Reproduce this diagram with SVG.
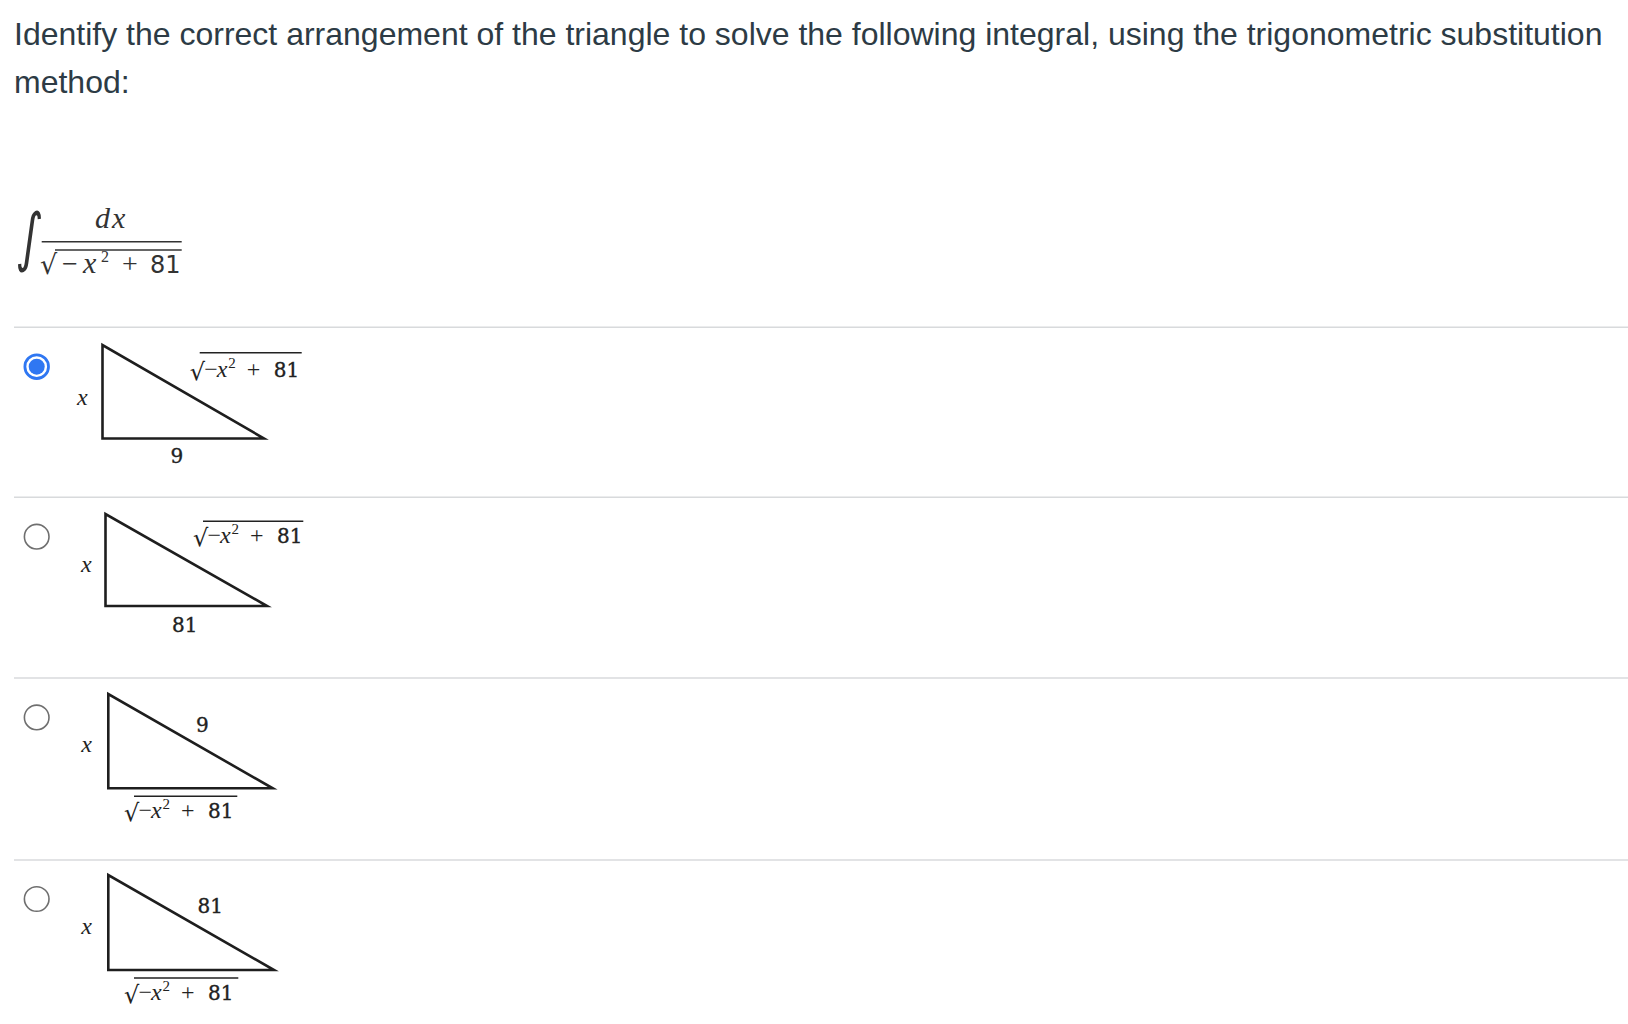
<svg xmlns="http://www.w3.org/2000/svg" width="1628" height="1024" viewBox="0 0 1628 1024">
<style>
.title{font-family:"Liberation Sans",Arial,sans-serif;font-size:32px;fill:#2d3b45}
.sep{stroke:#d8dadc;stroke-width:1.5}
.radio{fill:#fff;stroke:#6f6f6f;stroke-width:1.6}
.radioOn{fill:#fff;stroke:#2f77f2;stroke-width:2.8}
.dot{fill:#2f77f2}
.tri{fill:none;stroke:#1e1e1e;stroke-width:2.6;stroke-linejoin:miter}
.m{font-family:"Liberation Serif","Times New Roman",serif;font-size:24px;fill:#222}
.it{font-style:italic}
.dg{font-family:"DejaVu Serif",serif;font-size:20px;fill:#222;stroke:#222;stroke-width:0.35}
.sup{font-size:15px}
.rad{font-family:"DejaVu Sans",sans-serif;font-size:24px;fill:#222}
.vinc{stroke:#222;stroke-width:1.4}
.im{font-family:"Liberation Serif","Times New Roman",serif;font-size:28px;fill:#333}
.idg{font-family:"DejaVu Sans",sans-serif;font-size:24px;fill:#333}
</style>

<g id="question">
<text class="title" x="14" y="45">Identify the correct arrangement of the triangle to solve the following integral, using the trigonometric substitution</text>
<text class="title" x="14" y="93">method:</text>
</g>

<g id="integral">
<text transform="translate(16,259) skewX(-6) scale(0.7,1)" style="font-family:'DejaVu Sans',sans-serif;font-size:64px;fill:#333">∫</text>
<text class="im it" x="95" y="228" font-style="italic" style="font-size:30px;letter-spacing:2px">dx</text>
<line x1="41.7" y1="241.7" x2="181.7" y2="241.7" stroke="#333" stroke-width="1.6"/>
<text class="rad" x="40" y="274" style="font-size:27px;fill:#333">√</text>
<line x1="55" y1="250" x2="181.7" y2="250" stroke="#333" stroke-width="1.5"/>
<text class="im" y="273.3"><tspan x="62">−</tspan><tspan class="it" x="83" font-style="italic" style="font-size:30px">x</tspan><tspan x="101" dy="-11" style="font-size:16px">2</tspan><tspan x="122" dy="11">+</tspan><tspan class="idg" x="150">81</tspan></text>
</g>

<g id="separators">
<line class="sep" x1="14" y1="327.3" x2="1628" y2="327.3"/>
<line class="sep" x1="14" y1="497.3" x2="1628" y2="497.3"/>
<line class="sep" x1="14" y1="678" x2="1628" y2="678"/>
<line class="sep" x1="14" y1="860" x2="1628" y2="860"/>
</g>

<g id="option1">
<circle class="radioOn" cx="36.7" cy="366.7" r="11.8"/>
<circle class="dot" cx="36.7" cy="366.7" r="8"/>
<polygon class="tri" points="102.5,345 102.5,438.5 264,438.5"/>
<text class="m it" x="77" y="405" font-style="italic">x</text>
<text class="dg" x="170.5" y="463">9</text>
<g transform="translate(191.7,376.7)">
<text class="rad" x="-2" y="3">√</text>
<line class="vinc" x1="8" y1="-24" x2="110" y2="-24"/>
<text class="m"><tspan x="12.5">−</tspan><tspan class="it" x="25" font-style="italic">x</tspan><tspan class="sup" x="36.5" dy="-9">2</tspan><tspan x="55" dy="9">+</tspan><tspan class="dg" x="82">81</tspan></text>
</g>
</g>

<g id="option2">
<circle class="radio" cx="36.7" cy="536.7" r="12.3"/>
<polygon class="tri" points="105.5,514 105.5,606 267,606"/>
<text class="m it" x="81" y="572" font-style="italic">x</text>
<text class="dg" x="172" y="632">81</text>
<g transform="translate(195,543.3)">
<text class="rad" x="-2" y="3">√</text>
<line class="vinc" x1="8" y1="-22" x2="108.3" y2="-22"/>
<text class="m"><tspan x="12.5">−</tspan><tspan class="it" x="25" font-style="italic">x</tspan><tspan class="sup" x="36.5" dy="-9">2</tspan><tspan x="55" dy="9">+</tspan><tspan class="dg" x="82">81</tspan></text>
</g>
</g>

<g id="option3">
<circle class="radio" cx="36.7" cy="717.4" r="12.3"/>
<polygon class="tri" points="108.3,694 108.3,788.3 272.7,788.3"/>
<text class="m it" x="81.3" y="752" font-style="italic">x</text>
<text class="dg" x="196" y="731.5">9</text>
<g transform="translate(126,818.3)">
<text class="rad" x="-2" y="3">√</text>
<line class="vinc" x1="8" y1="-22" x2="111.3" y2="-22"/>
<text class="m"><tspan x="12.5">−</tspan><tspan class="it" x="25" font-style="italic">x</tspan><tspan class="sup" x="36.5" dy="-9">2</tspan><tspan x="55" dy="9">+</tspan><tspan class="dg" x="82">81</tspan></text>
</g>
</g>

<g id="option4">
<circle class="radio" cx="36.7" cy="899" r="12.3"/>
<polygon class="tri" points="108.3,875 108.3,970 274,970"/>
<text class="m it" x="81.3" y="934" font-style="italic">x</text>
<text class="dg" x="197.5" y="913">81</text>
<g transform="translate(126,1000)">
<text class="rad" x="-2" y="3">√</text>
<line class="vinc" x1="8" y1="-22" x2="112.3" y2="-22"/>
<text class="m"><tspan x="12.5">−</tspan><tspan class="it" x="25" font-style="italic">x</tspan><tspan class="sup" x="36.5" dy="-9">2</tspan><tspan x="55" dy="9">+</tspan><tspan class="dg" x="82">81</tspan></text>
</g>
</g>
</svg>
